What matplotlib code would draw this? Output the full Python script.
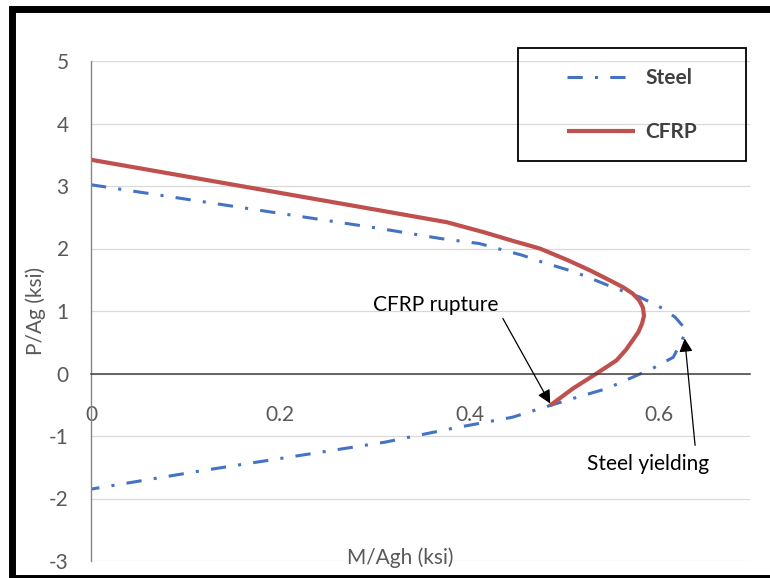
import matplotlib
matplotlib.use('Agg')
import matplotlib.pyplot as plt
from matplotlib.patches import Rectangle

plt.rcParams['font.family'] = ['Lato', 'DejaVu Sans']
plt.rcParams['axes.unicode_minus'] = False

# interaction curves, M/Agh vs P/Ag (ksi)
steel_m = [0, 0.305, 0.369, 0.41, 0.456, 0.477, 0.503, 0.52, 0.551, 0.58, 0.604, 0.617,
           0.625, 0.628, 0.625, 0.615, 0.593, 0.572, 0.545, 0.509, 0.483, 0.445, 0.381,
           0.31, 0.221, 0.115, 0]
steel_p = [3.02, 2.32, 2.16, 2.08, 1.89, 1.78, 1.66, 1.57, 1.38, 1.22, 1.04, 0.90,
           0.76, 0.67, 0.56, 0.26, 0.08, -0.06, -0.24, -0.40, -0.52, -0.70, -0.88,
           -1.10, -1.31, -1.56, -1.85]
cfrp_m = [0, 0.305, 0.376, 0.415, 0.446, 0.474, 0.504, 0.527, 0.548, 0.562, 0.572,
          0.579, 0.583, 0.584, 0.582, 0.578, 0.572, 0.565, 0.555, 0.534, 0.509, 0.485]
cfrp_p = [3.42, 2.61, 2.42, 2.26, 2.12, 2.0, 1.81, 1.65, 1.49, 1.38, 1.28,
          1.17, 1.05, 0.92, 0.8, 0.66, 0.53, 0.38, 0.21, 0.0, -0.24, -0.51]

x_ticks = [0, 0.2, 0.4, 0.6]
x_tick_labels = ['0', '0.2', '0.4', '0.6']
y_ticks = [-3, -2, -1, 0, 1, 2, 3, 4, 5]

blue = '#4472C4'
red = '#C0504D'
grey = '#595959'

fig = plt.figure(figsize=(7.7, 5.78), dpi=100)
ax = fig.add_axes([91 / 770, 1 - 561 / 578, 659 / 770, 500 / 578])

ax.plot(steel_m, steel_p, color=blue, lw=2.2, dashes=(5, 4, 1, 4),
        dash_capstyle='butt', label='Steel')
ax.plot(cfrp_m, cfrp_p, color=red, lw=3, solid_capstyle='butt', label='CFRP')

ax.set_xlim(0, 0.696)
ax.set_ylim(-3, 5)
ax.set_xticks(x_ticks)
ax.set_xticklabels(x_tick_labels)
ax.set_yticks(y_ticks)

ax.spines['top'].set_visible(False)
ax.spines['right'].set_visible(False)
ax.spines['bottom'].set_position(('data', 0))
ax.spines['bottom'].set_color('#404040')
ax.spines['bottom'].set_linewidth(1.1)
ax.spines['left'].set_color('#868686')
ax.spines['left'].set_linewidth(1.0)

ax.yaxis.grid(True, color='#d9d9d9', lw=0.9)
ax.set_axisbelow(True)
ax.tick_params(axis='both', length=0, labelsize=15, labelcolor=grey)
ax.tick_params(axis='x', pad=23)
ax.tick_params(axis='y', pad=16)

ax.set_ylabel('P/Ag (ksi)', fontsize=15, color=grey)
ax.yaxis.set_label_coords(-0.068, 0.5)
ax.text(0.47, 0.006, 'M/Agh (ksi)', transform=ax.transAxes, ha='center', va='center',
        fontsize=15, color=grey)

# annotations
head = dict(arrowstyle='-|>,head_length=0.8,head_width=0.4', color='black', lw=0.9,
            shrinkA=0, shrinkB=0)
ax.text(0.364, 1.09, 'CFRP rupture', fontsize=15, ha='center', va='center', color='black')
ax.annotate('', xy=(cfrp_m[-1], cfrp_p[-1] + 0.03), xytext=(0.435, 0.88), arrowprops=head)
ax.text(0.588, -1.44, 'Steel yielding', fontsize=15, ha='center', va='center', color='black')
ax.annotate('', xy=(0.627, 0.56), xytext=(0.638, -1.15), arrowprops=head)

# legend: entries centred inside a separately drawn box
leg = fig.legend(loc='center', bbox_to_anchor=(632 / 770, 1 - 105 / 578), frameon=False,
                 handlelength=3.3, handletextpad=0.5, labelspacing=1.65, borderpad=0,
                 prop={'weight': 'bold', 'size': 15})
for t in leg.get_texts():
    t.set_color('#404040')
fig.patches.append(Rectangle((518 / 770, 1 - 161 / 578), 228 / 770, 113 / 578, fill=False,
                             lw=1.3, edgecolor='black', transform=fig.transFigure))

# outer frame
fig.patches.append(Rectangle((11.5 / 770, 0.5 / 578), 1.2, 1 - 9 / 578, fill=False,
                             lw=5, edgecolor='black', transform=fig.transFigure,
                             clip_on=False))

fig.savefig('out.png', dpi=100)
